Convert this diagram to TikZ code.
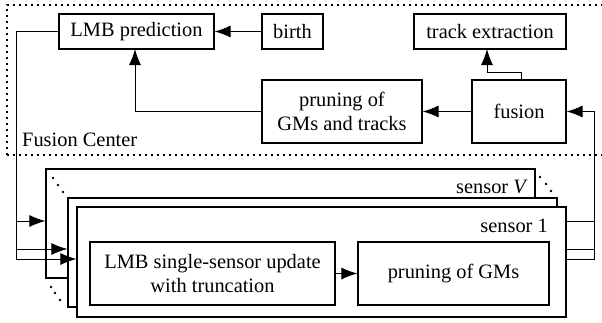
\documentclass[tikz,border=0pt]{standalone}
\usepackage{fontspec}
\setmainfont{Liberation Serif}
\usetikzlibrary{arrows.meta}
\begin{document}
\begin{tikzpicture}[x=1pt,y=-1pt,
  every node/.style={font=\fontsize{20.4}{24.5}\selectfont},
  blk/.style={draw,line width=1.2pt,fill=white,inner sep=0pt,align=center},
  arr/.style={line width=1pt,-{Latex[length=16pt,width=12pt]}},
  con/.style={line width=1pt},
  fcbox/.style={line width=1.2pt,dash pattern=on 2pt off 4pt},
  dotmark/.style={fill=black}]
\useasboundingbox (0,0) rectangle (602,322);
\clip (0,0) rectangle (602,322);
% Fusion center
\draw[fcbox] (7,155) -- (7,5) -- (615,5);
\draw[fcbox] (7,155) -- (615,155);
\node[anchor=base west,inner sep=0pt] (fc) at (22,146) {Fusion Center};
% top nodes
\node[blk,minimum width=155pt,minimum height=35pt] (lmb) at (136.5,31.5) {LMB prediction};
\node[blk,minimum width=61pt,minimum height=35pt] (birth) at (292.5,31.5) {birth};
\node[blk,minimum width=152pt,minimum height=35pt] (tx) at (490,31.5) {track extraction};
\node[blk,minimum width=160pt,minimum height=63pt] (prun) at (342,111.5) {pruning of\\GMs and tracks};
\node[blk,minimum width=94pt,minimum height=63pt] (fus) at (519,111.5) {fusion};
\draw[arr] (birth.west) -- (lmb.east);
\draw[arr] (fus.west) -- (prun.east);
\coordinate (pl) at (135,49);
\draw[arr] (prun.west) -| (pl);
\coordinate (fu1) at (521,80);
\coordinate (fu2) at (521,72);
\coordinate (tx1) at (487,49);
\draw[arr] (fu1) -- (fu2) -| (tx1);
% right-side lines (behind sensors)
\coordinate (ra) at (594,221);
\coordinate (rb) at (594,249);
\coordinate (rc) at (594,259);
\draw[con] (540,221) -- (ra);
\draw[con] (540,249) -- (rb);
\draw[arr] (540,259) -- (rc) |- (fus.east);
% sensor boxes
\node[blk,minimum width=489pt,minimum height=109pt] (sV) at (290.5,223.5) {};
\node[anchor=base east,inner sep=0pt] (lV) at (528,193) {sensor \textit{V}};
\node[blk,minimum width=489pt,minimum height=109pt] (sM) at (312.5,252.5) {};
\node[blk,minimum width=489pt,minimum height=110pt] (s1) at (321.5,262) {};
\node[anchor=base east,inner sep=0pt] (l1) at (548,232) {sensor 1};
\node[blk,minimum width=245pt,minimum height=63pt] (upd) at (212.5,273.5) {LMB single-sensor update\\with truncation};
\node[blk,minimum width=191pt,minimum height=63pt] (pg) at (453.5,273.5) {pruning of GMs};
\draw[arr] (upd.east) -- (pg.west);
% left-side lines
\coordinate (la) at (16,221);
\coordinate (lb) at (16,249);
\coordinate (lc) at (16,259);
\draw[arr] (lmb.west) -| (lc) -- (lc -| s1.west);
\draw[arr] (la) -- (la -| sV.west);
\draw[arr] (lb) -- (lb -| sM.west);
% dots
\foreach \p in {(53,178),(58,185),(63,192),(51,287),(55,293),(60,300),(540,177),(546,184),(551,191)}
  \fill[dotmark] \p circle (1.3pt);
\end{tikzpicture}
\end{document}
